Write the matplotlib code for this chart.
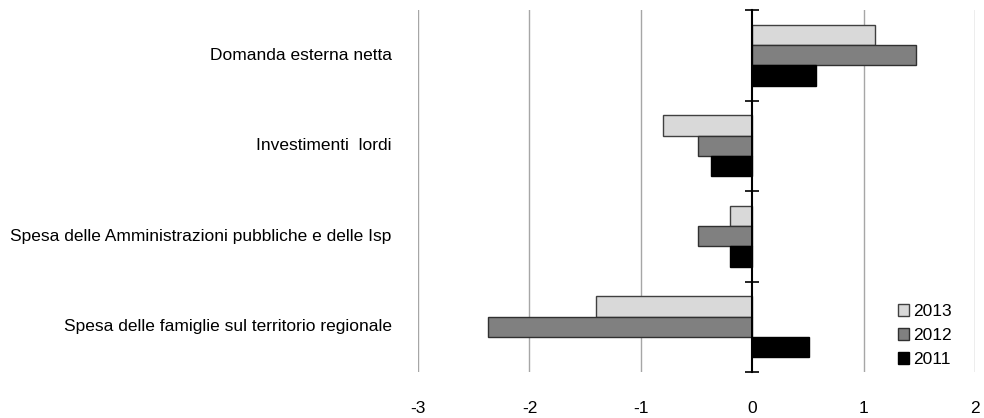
import numpy as np
import matplotlib
matplotlib.use('Agg')
import matplotlib.pyplot as plt
from matplotlib.transforms import blended_transform_factory

plt.rcParams['font.family'] = ['Liberation Sans', 'DejaVu Sans']

# categories from top to bottom
categories = [
    'Domanda esterna netta',
    'Investimenti  lordi',
    'Spesa delle Amministrazioni pubbliche e delle Isp',
    'Spesa delle famiglie sul territorio regionale',
]
years = ['2013', '2012', '2011']
v2013 = [1.10, -0.80, -0.20, -1.40]
v2012 = [1.47, -0.49, -0.49, -2.37]
v2011 = [0.57, -0.37, -0.20, 0.51]
x_ticks = [-3, -2, -1, 0, 1, 2]

colors = {'2013': '#d9d9d9', '2012': '#808080', '2011': '#000000'}
edges = {'2013': '#404040', '2012': '#303030', '2011': '#000000'}

fig = plt.figure(figsize=(9.84, 4.18), dpi=100)
ax = fig.add_axes([0.4248, 0.11, 0.5663, 0.866])

n = len(categories)
y = np.arange(n)[::-1]  # top category gets highest y
h = 0.225
series = [('2013', v2013, h), ('2012', v2012, 0.0), ('2011', v2011, -h)]
for name, vals, off in series:
    ax.barh(y + off, vals, height=h, color=colors[name], edgecolor=edges[name],
            linewidth=1.0, label=name, zorder=3)

ax.set_xlim(-3, 2)
ax.set_ylim(-0.5, n - 0.5)

# vertical grid
ax.set_xticks(x_ticks)
ax.set_xticklabels([str(t) for t in x_ticks], fontsize=12.5)
ax.tick_params(axis='x', length=0, pad=21)
for t in x_ticks:
    if t != 0:
        ax.axvline(t, color='#a6a6a6', linewidth=1.0, zorder=1)

# category axis at x = 0
for s in ['top', 'right', 'bottom']:
    ax.spines[s].set_visible(False)
ax.spines['left'].set_position(('data', 0))
ax.spines['left'].set_linewidth(1.5)
ax.spines['left'].set_zorder(4)
ax.set_yticks(np.arange(n + 1) - 0.5)
ax.set_yticklabels([])
ax.tick_params(axis='y', direction='inout', length=10, width=1.2)

# category labels on the far left
trans = blended_transform_factory(fig.transFigure, ax.transData)
for cat, yy in zip(categories, y):
    ax.text(0.398, yy, cat, transform=trans, ha='right', va='center', fontsize=12.5)

ax.legend(loc='lower right', bbox_to_anchor=(0.974, 0.105), bbox_transform=fig.transFigure,
          frameon=False, fontsize=12.5, handlelength=0.65, handleheight=0.65,
          handletextpad=0.2, labelspacing=0.52, borderaxespad=0)

fig.savefig('out.png', dpi=100)
